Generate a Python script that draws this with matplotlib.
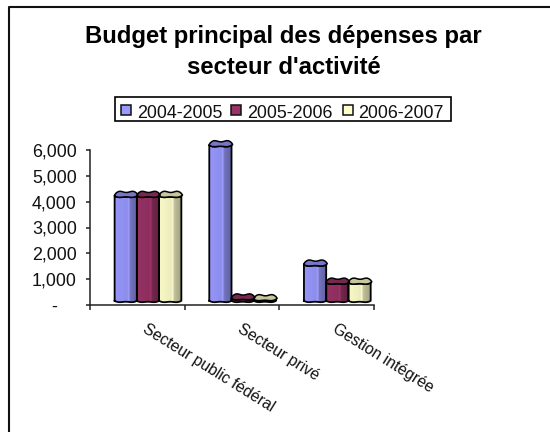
import numpy as np
import matplotlib
matplotlib.use("Agg")
import matplotlib.pyplot as plt
from matplotlib.colors import LinearSegmentedColormap, to_rgb
from matplotlib.lines import Line2D
from matplotlib.patches import PathPatch, Rectangle
from matplotlib.path import Path
from matplotlib.ticker import FuncFormatter

plt.rcParams["font.family"] = ["Liberation Sans", "DejaVu Sans"]

sectors = ["Secteur public fédéral", "Secteur privé", "Gestion intégrée"]
years = ["2004-2005", "2005-2006", "2006-2007"]
budget_2004 = [4060, 6020, 1400]
budget_2005 = [4060, 90, 700]
budget_2006 = [4060, 60, 700]
series_colors = ["#9999FF", "#993366", "#FFFFCC"]

W, H = 550, 432
fig = plt.figure(figsize=(W / 100, H / 100), dpi=100)
ax = fig.add_axes([90 / W, 1 - 305 / H, 284 / W, 155 / H])
ax.patch.set_visible(False)

# chart frame: only the top and left edges show
fig.add_artist(Line2D([9 / W, 9 / W, 1], [0, 1 - 7 / H, 1 - 7 / H],
                      color="#111111", lw=1.5, solid_capstyle="butt"))

for side in ("top", "right"):
    ax.spines[side].set_visible(False)
for side in ("left", "bottom"):
    ax.spines[side].set_color("#222222")
    ax.spines[side].set_linewidth(1.1)

ax.set_xticks([0, 1, 2, 3])
ax.set_xticklabels([])
ax.set_yticks(range(0, 6001, 1000))
ax.yaxis.set_major_formatter(FuncFormatter(lambda v, _: "" if v == 0 else f"{v:,.0f}"))
ax.tick_params(axis="y", length=3, width=1.1, labelsize=12.9, pad=6.5, color="#222222", labelcolor="#111111")
ax.tick_params(axis="x", length=3.8, width=1.1, color="#222222")
ax.annotate("-", xy=(0, 0), xycoords="data", xytext=(-26, -2), textcoords="offset points",
            ha="center", va="center", fontsize=12.9, color="#111111")

# column geometry in axis units: width, left inset in a group, raised floor, rim sizes
bar_w = 0.235
group_pad = 0.26
floor = 165
rim_low = 58
rim_high = 150
rim_shift = 0.012


def shaded_cmap(color):
    rgb = np.array(to_rgb(color))
    stops = [(0.0, rgb * 0.98), (0.54, rgb * 0.92), (0.6, np.minimum(rgb * 1.06, 1)),
             (0.66, rgb * 0.76), (1.0, rgb * 0.62)]
    return LinearSegmentedColormap.from_list("col", stops)


def lobes(t):
    # the columns are drawn with few facets, so their rims come out wavy
    return 0.95 * np.sin(np.pi * t) ** 0.6 + 0.28 * np.sin(3 * np.pi * t)


def draw_column(x0, value, color):
    x1 = x0 + bar_w
    top = floor + value
    t = np.linspace(0, 1, 25)
    xs = x0 + bar_w * t
    grad = np.linspace(0, 1, 64).reshape(1, -1)

    low_base = floor - rim_low * lobes(t)
    low_top = top - rim_low * lobes(t)
    up_x = xs + rim_shift * t
    up_top = top + 30 + rim_high * lobes(t)

    body = Path(np.vstack([np.column_stack([xs, low_base]), [[x1, top]],
                           np.column_stack([xs[::-1], low_top[::-1]]), [[x0, floor]]]))
    face = PathPatch(body, facecolor="none", edgecolor="none", transform=ax.transData)
    ax.add_patch(face)
    img = ax.imshow(grad, extent=[x0, x1, floor - 100, top + 100], cmap=shaded_cmap(color),
                    aspect="auto", zorder=2, vmin=0, vmax=1)
    # the tallest column rises past the axis limit
    img.set_clip_box(fig.bbox)
    img.set_clip_path(face)
    ax.plot(np.r_[xs, x1, xs[::-1], x0], np.r_[low_base, top, low_top[::-1], floor],
            color="black", lw=1.3, zorder=3, solid_joinstyle="round", clip_on=False)

    # top cap, darker than the side
    cap_x = np.r_[xs, up_x[::-1]]
    cap_y = np.r_[low_top, up_top[::-1]]
    ax.fill(cap_x, cap_y, color=np.array(to_rgb(color)) * 0.78, zorder=4, lw=0, clip_on=False)
    ax.plot(np.r_[cap_x, cap_x[0]], np.r_[cap_y, cap_y[0]], color="black", lw=1.1, zorder=5, clip_on=False)


for s, values in enumerate([budget_2004, budget_2005, budget_2006]):
    for g, v in enumerate(values):
        draw_column(g + group_pad + s * bar_w, v, series_colors[s])
ax.set_xlim(0, 3)
ax.set_ylim(0, 6000)

for g, name in enumerate(sectors):
    ax.annotate(name, xy=(g + 0.5, 0), xytext=(5, -16), textcoords="offset points",
                rotation=-32, rotation_mode="anchor", ha="left", va="center",
                fontsize=11.35, color="#111111")

fig.text(283.5 / W, 1 - 43.3 / H, "Budget principal des dépenses par", ha="center", va="baseline",
         fontsize=17.2, fontweight="bold", color="black")
fig.text(283.5 / W, 1 - 74.3 / H, "secteur d'activité", ha="center", va="baseline",
         fontsize=17.2, fontweight="bold", color="black")

# legend box with its frame and swatches
fig.add_artist(Rectangle((114.5 / W, 1 - 121 / H), 336.5 / W, 24 / H, transform=fig.transFigure,
                         facecolor="white", edgecolor="black", lw=1.2))
for x_sw, x_txt, label, color in zip([121, 231, 343], [137, 247, 358], years, series_colors):
    fig.add_artist(Rectangle((x_sw / W, 1 - 115 / H), 10 / W, 10 / H, transform=fig.transFigure,
                             facecolor=color, edgecolor="#111111", lw=1.1))
    fig.text(x_txt / W, 1 - 118.5 / H, label, ha="left", va="baseline", fontsize=12.9, color="#111111")

fig.savefig("out.png", dpi=100, facecolor="white")
